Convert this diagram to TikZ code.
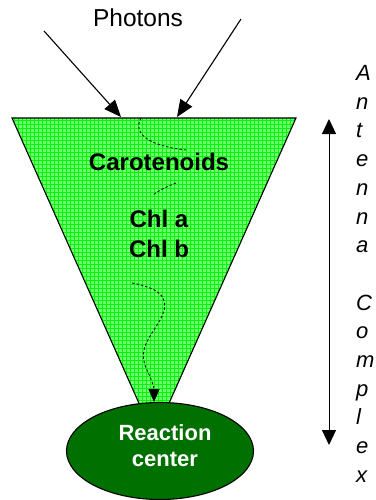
\documentclass[tikz,border=0pt]{standalone}
\usepackage{fontspec}
\setmainfont{Liberation Sans}
\usetikzlibrary{arrows.meta,shapes.geometric}
\definecolor{lightgreen}{RGB}{115,255,115}
\definecolor{gridgreen}{RGB}{0,245,0}
\definecolor{darkgreen}{RGB}{0,112,0}
\tikzset{
  photon/.style={line width=1.1pt,-{Triangle[length=17pt,width=14pt]}},
  transfer/.style={line width=0.8pt,dash pattern=on 2.5pt off 2pt,-{Triangle[length=13pt,width=11pt]}},
  nodash/.style={line width=0.8pt,dash pattern=on 2.5pt off 2pt},
  boldlbl/.style={anchor=base,inner sep=0pt,font=\fontsize{24pt}{28pt}\selectfont\bfseries},
  sidelbl/.style={anchor=base west,inner sep=0pt,font=\fontsize{22pt}{24pt}\selectfont\itshape},
  gridline/.style={gridgreen,line width=0.4pt}
}
\begin{document}
\begin{tikzpicture}[x=1pt,y=-1pt]
\useasboundingbox (0,0) rectangle (375,500);
\coordinate (tl) at (12,118);
\coordinate (tr) at (296,118);
\coordinate (apex) at (154,437);
% funnel
\begin{scope}
  \clip (tl) -- (tr) -- (apex) -- cycle;
  \fill[lightgreen] (0,110) rectangle (300,440);
  \foreach \x in {14,18,...,298} \draw[gridline] (\x,110) -- (\x,440);
  \foreach \y in {120,124,...,440} \draw[gridline] (0,\y) -- (300,\y);
\end{scope}
\draw[line width=1.1pt,line join=miter] (tl) -- (tr) -- (apex) -- cycle;
% reaction center
\node[ellipse,draw=black,line width=1.1pt,fill=darkgreen,minimum width=187pt,minimum height=97pt,inner sep=0pt] (rc) at (160,451) {};
\node[anchor=base,inner sep=0pt,text=white,font=\fontsize{22pt}{26pt}\selectfont\bfseries] (rc1) at (165,440) {Reaction};
\node[anchor=base,inner sep=0pt,text=white,font=\fontsize{22pt}{26pt}\selectfont\bfseries] (rc2) at (165,466) {center};
% photons
\node[anchor=base,inner sep=0pt,font=\fontsize{24.5pt}{28pt}\selectfont] (ph) at (138,27) {Photons};
\coordinate (p1s) at (44,31);
\coordinate (p1e) at (121,117);
\coordinate (p2s) at (241,19);
\coordinate (p2e) at (177,117);
\draw[photon] (p1s) -- (p1e);
\draw[photon] (p2s) -- (p2e);
% pigment labels
\node[boldlbl] (car) at (159,170) {Carotenoids};
\node[boldlbl] (chla) at (159,227) {Chl a};
\node[boldlbl] (chlb) at (159,257) {Chl b};
% energy transfer (dashed)
\coordinate (d1) at (141,118);
\coordinate (d2) at (186,150);
\coordinate (d3) at (176,183);
\coordinate (d4) at (153,195);
\coordinate (d5) at (132,283);
\coordinate (d6) at (154,402);
\draw[nodash] (d1) .. controls (132,134) and (150,146) .. (d2);
\draw[nodash] (d3) .. controls (166,187) and (158,191) .. (d4);
\draw[transfer] (d5) .. controls (170,290) and (168,305) .. (160,320)
  .. controls (150,338) and (138,348) .. (146,368)
  .. controls (152,380) and (154,388) .. (d6);
% antenna complex double arrow
\coordinate (ua) at (329,119);
\coordinate (da) at (329,445);
\draw[line width=1pt,{Triangle[length=15pt,width=14pt]}-{Triangle[length=15pt,width=14pt]}] (ua) -- (da);
% vertical label
\foreach \ch [count=\i from 0] in {A,n,t,e,n,n,a,{},C,o,m,p,l,e,x}
  \node[sidelbl] (v\i) at (356,80.5+28.7*\i) {\ch};
\end{tikzpicture}
\end{document}
